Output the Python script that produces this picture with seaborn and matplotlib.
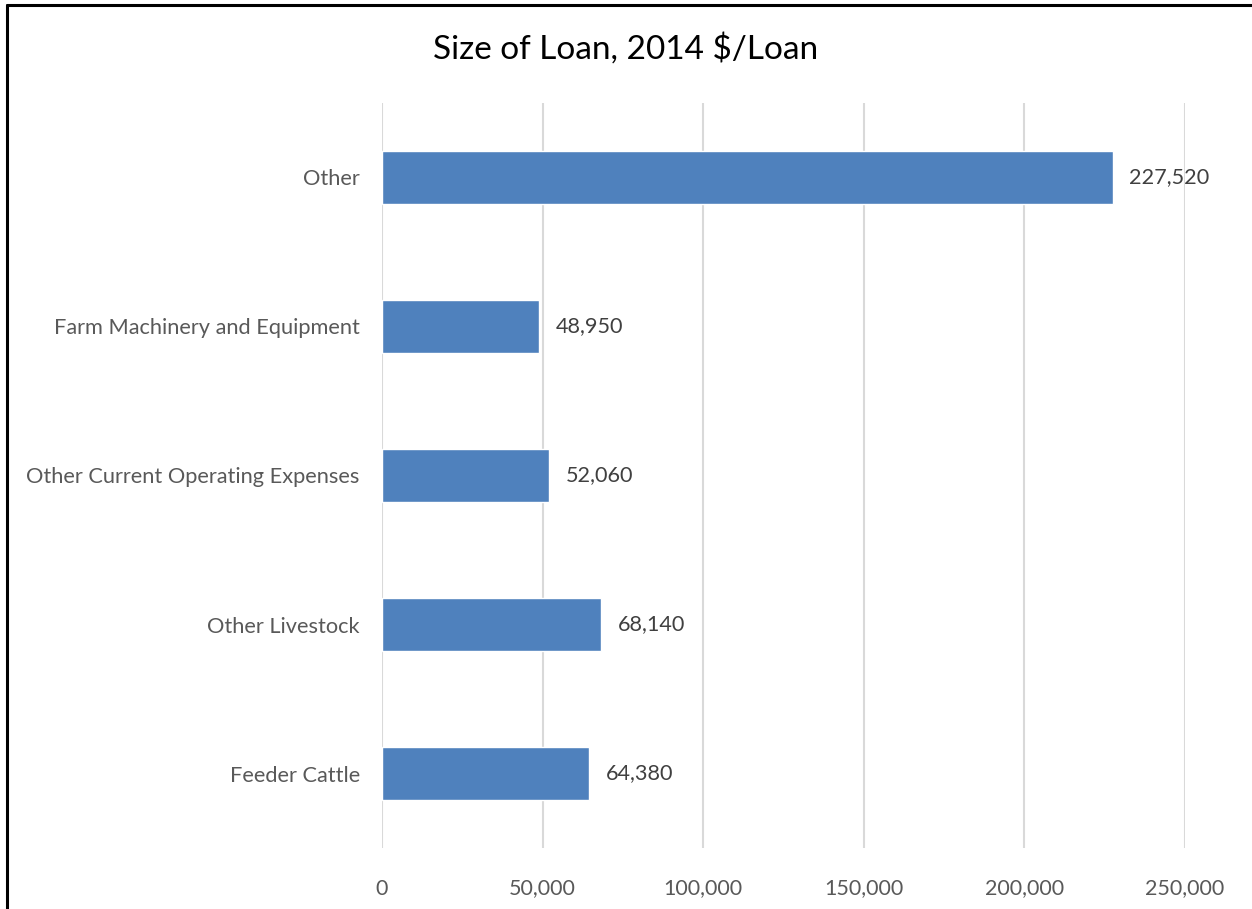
import matplotlib
matplotlib.use("Agg")
import matplotlib.pyplot as plt
from matplotlib.lines import Line2D
from matplotlib.ticker import FuncFormatter
import seaborn as sns
import pandas as pd

categories = [
    "Other",
    "Farm Machinery and Equipment",
    "Other Current Operating Expenses",
    "Other Livestock",
    "Feeder Cattle",
]
loan_size = [227520, 48950, 52060, 68140, 64380]
x_ticks = [0, 50000, 100000, 150000, 200000, 250000]

df = pd.DataFrame({"category": categories, "size": loan_size})

sns.set_theme(style="white")
plt.rcParams["font.family"] = ["Lato", "DejaVu Sans"]

fig = plt.figure(figsize=(12.52, 9.09), dpi=100)
ax = fig.add_axes([0.3051, 0.0671, 0.6414, 0.8196])

sns.barplot(data=df, x="size", y="category", orient="h", color="#4F81BD",
            saturation=1, width=0.35, ax=ax, zorder=3)

ax.set_xlim(0, 250000)
ax.set_ylim(4.5, -0.5)
ax.set_xticks(x_ticks)
ax.xaxis.set_major_formatter(FuncFormatter(lambda v, p: f"{int(v):,}"))
ax.grid(axis="x", color="#D9D9D9", linewidth=1.5, zorder=0)
ax.grid(axis="y", visible=False)
for s in ax.spines.values():
    s.set_visible(False)
ax.tick_params(axis="x", length=0, labelsize=15.5, colors="#595959", pad=22)
ax.tick_params(axis="y", length=0, labelsize=15.7, colors="#595959", pad=16)
ax.set_xlabel("")
ax.set_ylabel("")

for i, v in enumerate(loan_size):
    ax.annotate(f"{v:,}", xy=(v, i), xytext=(12, 0), textcoords="offset points",
                ha="left", va="center", fontsize=15.6, color="#404040")

fig.text(0.5, 0.947, "Size of Loan, 2014 $/Loan", ha="center", va="center",
         fontsize=24, color="#000000")

# frame edges along the left and top of the figure
fig.add_artist(Line2D([0.0055, 0.0055], [0, 0.995], transform=fig.transFigure,
                      color="black", linewidth=2.2))
fig.add_artist(Line2D([0.0055, 1.0], [0.995, 0.995], transform=fig.transFigure,
                      color="black", linewidth=2.2))

fig.savefig("out.png", dpi=100, facecolor="white")
